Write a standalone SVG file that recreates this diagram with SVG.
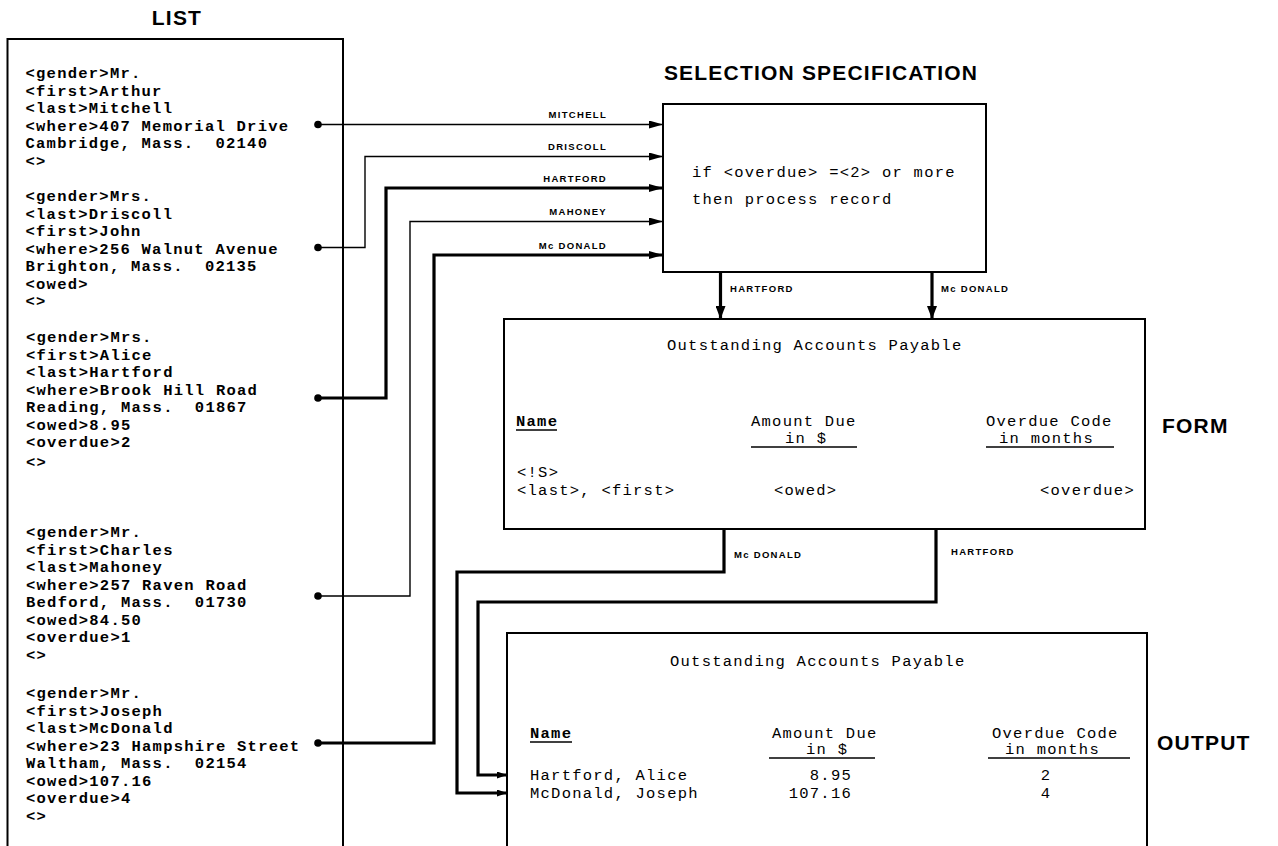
<svg xmlns="http://www.w3.org/2000/svg" width="1278" height="846" viewBox="0 0 1278 846">
<style>
.box{fill:none;stroke:#000;stroke-width:2}
.title{font-family:"Liberation Sans",Arial,sans-serif;font-weight:bold;font-size:21px;letter-spacing:1.2px;fill:#000}
.lst{font-family:"Liberation Mono","Courier New",monospace;font-weight:bold;font-size:15.5px;letter-spacing:1.25px;fill:#000;white-space:pre}
.mono{font-family:"Liberation Mono","Courier New",monospace;font-size:15.5px;letter-spacing:1.25px;fill:#000;white-space:pre}
.monob{font-family:"Liberation Mono","Courier New",monospace;font-weight:bold;font-size:15.5px;letter-spacing:1.25px;fill:#000}
.lbl{font-family:"Liberation Sans",Arial,sans-serif;font-weight:bold;font-size:9.5px;letter-spacing:1.3px;fill:#000}
.thin{fill:none;stroke:#000;stroke-width:1.4}
.thick{fill:none;stroke:#000;stroke-width:3.2}
.ul{stroke:#000;stroke-width:1.5}
</style>
<defs>
<marker id="ah" viewBox="0 0 14 8" refX="14" refY="4" markerWidth="14" markerHeight="8" markerUnits="userSpaceOnUse" orient="auto"><path d="M0,0 L14,4 L0,8 z" fill="#000"/></marker>
<marker id="ahd" viewBox="0 0 13 10" refX="13" refY="5" markerWidth="13" markerHeight="10" markerUnits="userSpaceOnUse" orient="auto"><path d="M0,0 L13,5 L0,10 z" fill="#000"/></marker>
<marker id="ahs" viewBox="0 0 10 7" refX="10" refY="3.5" markerWidth="10" markerHeight="7" markerUnits="userSpaceOnUse" orient="auto"><path d="M0,0 L10,3.5 L0,7 z" fill="#000"/></marker>
</defs>
<rect width="1278" height="846" fill="#fff"/>

<g id="list">
<text class="title" x="177" y="25" text-anchor="middle">LIST</text>
<path class="box" d="M7.5,846 V39 H343 V846"/>
<text class="lst" xml:space="preserve">
<tspan x="25.5" y="78">&lt;gender&gt;Mr.</tspan>
<tspan x="25.5" y="95.5">&lt;first&gt;Arthur</tspan>
<tspan x="25.5" y="113">&lt;last&gt;Mitchell</tspan>
<tspan x="25.5" y="130.5">&lt;where&gt;407 Memorial Drive</tspan>
<tspan x="25.5" y="148">Cambridge, Mass.  02140</tspan>
<tspan x="25.5" y="165.5">&lt;&gt;</tspan>
<tspan x="25.5" y="201">&lt;gender&gt;Mrs.</tspan>
<tspan x="25.5" y="218.5">&lt;last&gt;Driscoll</tspan>
<tspan x="25.5" y="236">&lt;first&gt;John</tspan>
<tspan x="25.5" y="253.5">&lt;where&gt;256 Walnut Avenue</tspan>
<tspan x="25.5" y="271">Brighton, Mass.  02135</tspan>
<tspan x="25.5" y="288.5">&lt;owed&gt;</tspan>
<tspan x="25.5" y="306">&lt;&gt;</tspan>
<tspan x="26" y="342">&lt;gender&gt;Mrs.</tspan>
<tspan x="26" y="359.5">&lt;first&gt;Alice</tspan>
<tspan x="26" y="377">&lt;last&gt;Hartford</tspan>
<tspan x="26" y="394.5">&lt;where&gt;Brook Hill Road</tspan>
<tspan x="26" y="412">Reading, Mass.  01867</tspan>
<tspan x="26" y="429.5">&lt;owed&gt;8.95</tspan>
<tspan x="26" y="447">&lt;overdue&gt;2</tspan>
<tspan x="26" y="467">&lt;&gt;</tspan>
<tspan x="26" y="537">&lt;gender&gt;Mr.</tspan>
<tspan x="26" y="554.5">&lt;first&gt;Charles</tspan>
<tspan x="26" y="572">&lt;last&gt;Mahoney</tspan>
<tspan x="26" y="589.5">&lt;where&gt;257 Raven Road</tspan>
<tspan x="26" y="607">Bedford, Mass.  01730</tspan>
<tspan x="26" y="624.5">&lt;owed&gt;84.50</tspan>
<tspan x="26" y="642">&lt;overdue&gt;1</tspan>
<tspan x="26" y="660">&lt;&gt;</tspan>
<tspan x="26" y="698">&lt;gender&gt;Mr.</tspan>
<tspan x="26" y="715.5">&lt;first&gt;Joseph</tspan>
<tspan x="26" y="733">&lt;last&gt;McDonald</tspan>
<tspan x="26" y="750.5">&lt;where&gt;23 Hampshire Street</tspan>
<tspan x="26" y="768">Waltham, Mass.  02154</tspan>
<tspan x="26" y="785.5">&lt;owed&gt;107.16</tspan>
<tspan x="26" y="803">&lt;overdue&gt;4</tspan>
<tspan x="26" y="820.5">&lt;&gt;</tspan>
</text>
</g>

<g id="selection">
<text class="title" x="821" y="80" text-anchor="middle">SELECTION SPECIFICATION</text>
<rect class="box" x="663" y="104" width="323" height="168"/>
<text class="mono" x="692" y="177" xml:space="preserve">if &lt;overdue&gt; =&lt;2&gt; or more</text>
<text class="mono" x="692" y="204">then process record</text>
</g>

<g id="form">
<rect class="box" x="504" y="319" width="641" height="210"/>
<text class="mono" x="667" y="350">Outstanding Accounts Payable</text>
<text class="monob" x="516" y="426">Name</text>
<line class="ul" x1="516" y1="430" x2="557" y2="430"/>
<text class="mono" x="751" y="426">Amount Due</text>
<text class="mono" x="785" y="443">in $</text>
<line class="ul" x1="751" y1="447" x2="857" y2="447"/>
<text class="mono" x="986" y="426">Overdue Code</text>
<text class="mono" x="999" y="443">in months</text>
<line class="ul" x1="986" y1="447" x2="1114" y2="447"/>
<text class="mono" x="517" y="477">&lt;!S&gt;</text>
<text class="mono" x="517" y="495">&lt;last&gt;, &lt;first&gt;</text>
<text class="mono" x="774" y="495">&lt;owed&gt;</text>
<text class="mono" x="1040" y="495">&lt;overdue&gt;</text>
<text class="title" x="1162" y="433">FORM</text>
</g>

<g id="output">
<path class="box" d="M507,846 V633 H1147 V846"/>
<text class="mono" x="670" y="666">Outstanding Accounts Payable</text>
<text class="monob" x="530" y="738">Name</text>
<line class="ul" x1="530" y1="742" x2="572" y2="742"/>
<text class="mono" x="772" y="738">Amount Due</text>
<text class="mono" x="806" y="754">in $</text>
<line class="ul" x1="769" y1="758" x2="875" y2="758"/>
<text class="mono" x="992" y="738">Overdue Code</text>
<text class="mono" x="1005" y="754">in months</text>
<line class="ul" x1="988" y1="758" x2="1130" y2="758"/>
<text class="mono" x="530" y="780">Hartford, Alice</text>
<text class="mono" x="530" y="798">McDonald, Joseph</text>
<text class="mono" x="852" y="780" text-anchor="end">8.95</text>
<text class="mono" x="852" y="798" text-anchor="end">107.16</text>
<text class="mono" x="1046" y="780" text-anchor="middle">2</text>
<text class="mono" x="1046" y="798" text-anchor="middle">4</text>
<text class="title" x="1157" y="750">OUTPUT</text>
</g>

<g id="connectors">
<circle cx="318" cy="124.5" r="3.8"/>
<circle cx="318" cy="247.5" r="3.8"/>
<circle cx="318" cy="398" r="3.8"/>
<circle cx="318" cy="596" r="3.8"/>
<circle cx="318" cy="743" r="3.8"/>
<path class="thin" d="M318,124.5 H663" marker-end="url(#ah)"/>
<path class="thin" d="M318,247.5 H365 V156.5 H663" marker-end="url(#ah)"/>
<path class="thick" d="M318,398 H386 V188 H663" marker-end="url(#ah)"/>
<path class="thin" d="M318,596 H410 V221.5 H663" marker-end="url(#ah)"/>
<path class="thick" d="M318,743 H434 V255 H663" marker-end="url(#ah)"/>
<text class="lbl" x="607" y="118" text-anchor="end">MITCHELL</text>
<text class="lbl" x="607" y="150" text-anchor="end">DRISCOLL</text>
<text class="lbl" x="607" y="182" text-anchor="end">HARTFORD</text>
<text class="lbl" x="607" y="215" text-anchor="end">MAHONEY</text>
<text class="lbl" x="607" y="249" text-anchor="end">Mc DONALD</text>
<path class="thick" d="M720.5,272 V319" marker-end="url(#ahd)"/>
<path class="thick" d="M932,272 V319" marker-end="url(#ahd)"/>
<text class="lbl" x="730" y="292">HARTFORD</text>
<text class="lbl" x="941" y="292">Mc DONALD</text>
<path class="thick" d="M724,529 V572 H457 V793 H507" marker-end="url(#ahs)"/>
<path class="thick" d="M936,529 V602 H478 V775 H507" marker-end="url(#ahs)"/>
<text class="lbl" x="734" y="558">Mc DONALD</text>
<text class="lbl" x="951" y="555">HARTFORD</text>
</g>
</svg>
